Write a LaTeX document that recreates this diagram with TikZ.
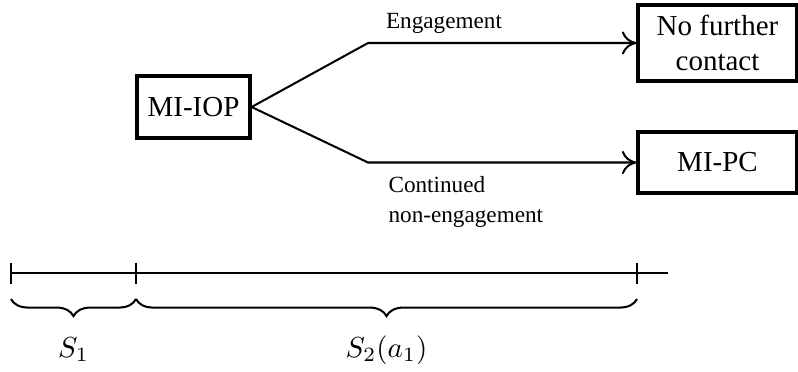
\documentclass[tikz,border=0pt]{standalone}
\usepackage[no-math]{fontspec}
\setmainfont{Liberation Serif}
\usetikzlibrary{arrows.meta,positioning,calc,decorations.pathreplacing}

\begin{document}
\begin{tikzpicture}[
    x=0.345pt, y=-0.345pt,
    font=\fontsize{10}{12}\selectfont,
    box/.style={rectangle, draw=black, line width=1.1pt, align=center, inner sep=0pt, minimum width=54.9pt},
    flow/.style={line width=0.7pt, -{Computer Modern Rightarrow[length=5pt,width=8pt]}},
    lbl/.style={font=\fontsize{8}{10.4}\selectfont, inner sep=0pt},
    axis/.style={line width=0.7pt},
    brace/.style={decorate, decoration={brace, mirror, amplitude=5.9pt}, line width=0.7pt}
]
\useasboundingbox (0,0) rectangle (798,371);

% decision and its two outcomes
\node[box, minimum width=39pt, minimum height=21.4pt] (iop) at (193.5,107) {MI-IOP};
\node[box, minimum height=26.2pt] (stop) at (717.5,43) {No further\\contact};
\node[box, minimum height=21pt] (pc) at (717.5,162.5) {MI-PC};

\coordinate (up) at (368,43);
\coordinate (down) at (pc.west -| up);

\draw[flow] (iop.east) -- (up) -- (stop.west);
\draw[flow] (iop.east) -- (down) -- (pc.west);

\node[lbl, anchor=base] (eng) at (444,28) {Engagement};
\node[lbl, anchor=north west, align=left] (noeng) at (388,176) {Continued\\non-engagement};

% time line
\coordinate (t0) at (11,273);
\coordinate (t1) at (136,273);
\coordinate (t2) at (637,273);
\coordinate (tend) at (668,273);
\draw[axis] (t0) -- (tend);
\foreach \t in {t0,t1,t2}
    \draw[axis] (\t) ++(0,-10.5) -- ++(0,21);

% stages
\coordinate (b0) at (11,299);
\coordinate (b1) at (136,299);
\coordinate (b2) at (637,299);
\draw[brace] (b0) -- (b1);
\draw[brace] (b1) -- (b2);
\node[anchor=base] (s1) at (73.5,357) {$S_1$};
\node[anchor=base] (s2) at (386.5,357) {$S_2(a_1)$};
\end{tikzpicture}
\end{document}
